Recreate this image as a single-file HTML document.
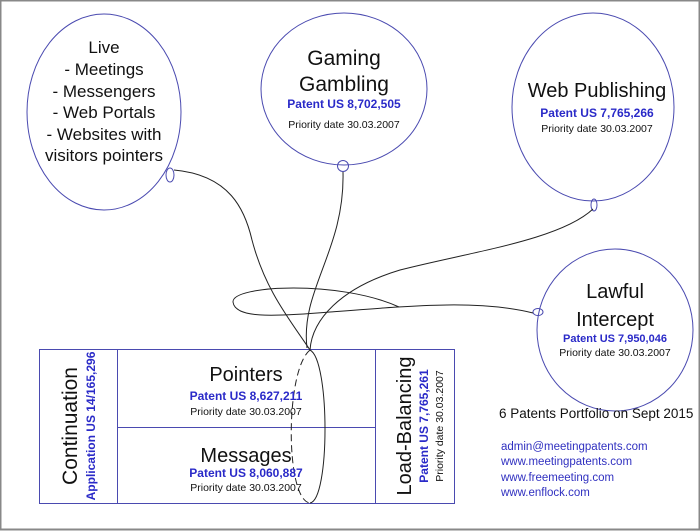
<!DOCTYPE html>
<html><head><style>
body{margin:0;background:#fff;}
svg{display:block;font-family:"Liberation Sans",sans-serif;}
</style></head><body>
<svg width="700" height="531" viewBox="0 0 700 531">
<rect x="0.5" y="0.5" width="699" height="529" fill="#fff" stroke="#888" stroke-width="2"/>
<g fill="none" stroke="#4a4ab0" stroke-width="1">
<ellipse cx="104" cy="112" rx="77" ry="98"/>
<ellipse cx="344" cy="89" rx="83" ry="76"/>
<ellipse cx="593" cy="107" rx="81" ry="94"/>
<ellipse cx="615" cy="330" rx="78" ry="81"/>
<ellipse cx="170" cy="175" rx="4" ry="7"/>
<circle cx="343" cy="166" r="5.5"/>
<ellipse cx="594" cy="205" rx="3" ry="6"/>
<ellipse cx="538" cy="312" rx="5" ry="3.5"/>
<rect x="39.5" y="349.5" width="415" height="154"/>
<line x1="117.5" y1="349" x2="117.5" y2="503"/>
<line x1="375.5" y1="349" x2="375.5" y2="503"/>
<line x1="117" y1="427.5" x2="375" y2="427.5"/>
</g>
<g fill="none" stroke="#222" stroke-width="1">
<path d="M174,170 C230,175 245,210 252,240 C265,290 290,320 310,350"/>
<path d="M343,172 C345,250 300,290 307,348"/>
<path d="M593,209 C560,240 470,252 400,270 C340,288 312,320 310,350"/>
<path d="M533,313 C480,300 420,305 330,312 C270,317 235,318 233,302 C232,285 340,280 399,307"/>
<path d="M310,350 C330,360 330,500 310,503"/>
<path d="M310,350 C285,370 285,500 310,503" stroke-dasharray="7,4"/>
</g>
<g text-anchor="middle" fill="#111">
<text font-size="17" x="104" y="53">Live</text>
<text font-size="17" x="104" y="75">- Meetings</text>
<text font-size="17" x="104" y="97">- Messengers</text>
<text font-size="17" x="104" y="118">- Web Portals</text>
<text font-size="17" x="104" y="140">- Websites with</text>
<text font-size="17" x="104" y="161">visitors pointers</text>

<text font-size="21" x="344" y="65">Gaming</text>
<text font-size="21" x="344" y="91">Gambling</text>
<text font-size="12" x="344" y="108" font-weight="bold" fill="#2a2ac8">Patent US 8,702,505</text>
<text font-size="10.5" x="344" y="128">Priority date 30.03.2007</text>

<text font-size="20" x="597" y="97">Web Publishing</text>
<text font-size="12" x="597" y="117" font-weight="bold" fill="#2a2ac8">Patent US 7,765,266</text>
<text font-size="10.5" x="597" y="132">Priority date 30.03.2007</text>

<text font-size="20" x="615" y="298">Lawful</text>
<text font-size="20" x="615" y="326">Intercept</text>
<text font-size="11" x="615" y="342" font-weight="bold" fill="#2a2ac8">Patent US 7,950,046</text>
<text font-size="10.5" x="615" y="356">Priority date 30.03.2007</text>

<text font-size="20" x="246" y="381">Pointers</text>
<text font-size="12" x="246" y="400" font-weight="bold" fill="#2a2ac8">Patent US 8,627,211</text>
<text font-size="10.5" x="246" y="415">Priority date 30.03.2007</text>
<text font-size="20" x="246" y="462">Messages</text>
<text font-size="12" x="246" y="477" font-weight="bold" fill="#2a2ac8">Patent US 8,060,887</text>
<text font-size="10.5" x="246" y="491">Priority date 30.03.2007</text>

<text font-size="21" transform="translate(77,426) rotate(-90)">Continuation</text>
<text font-size="12" font-weight="bold" fill="#2a2ac8" transform="translate(95,426) rotate(-90)">Application US 14/165,296</text>
<text font-size="20" transform="translate(411,426) rotate(-90)">Load-Balancing</text>
<text font-size="12" font-weight="bold" fill="#2a2ac8" transform="translate(428,426) rotate(-90)">Patent US 7,765,261</text>
<text font-size="10.5" transform="translate(443,426) rotate(-90)">Priority date 30.03.2007</text>
</g>
<text font-size="13.5" x="499" y="418" fill="#111">6 Patents Portfolio on Sept 2015</text>
<g font-size="11.5" fill="#3030c0">
<text x="501" y="450">admin@meetingpatents.com</text>
<text x="501" y="465">www.meetingpatents.com</text>
<text x="501" y="481">www.freemeeting.com</text>
<text x="501" y="496">www.enflock.com</text>
</g>
</svg>
</body></html>
